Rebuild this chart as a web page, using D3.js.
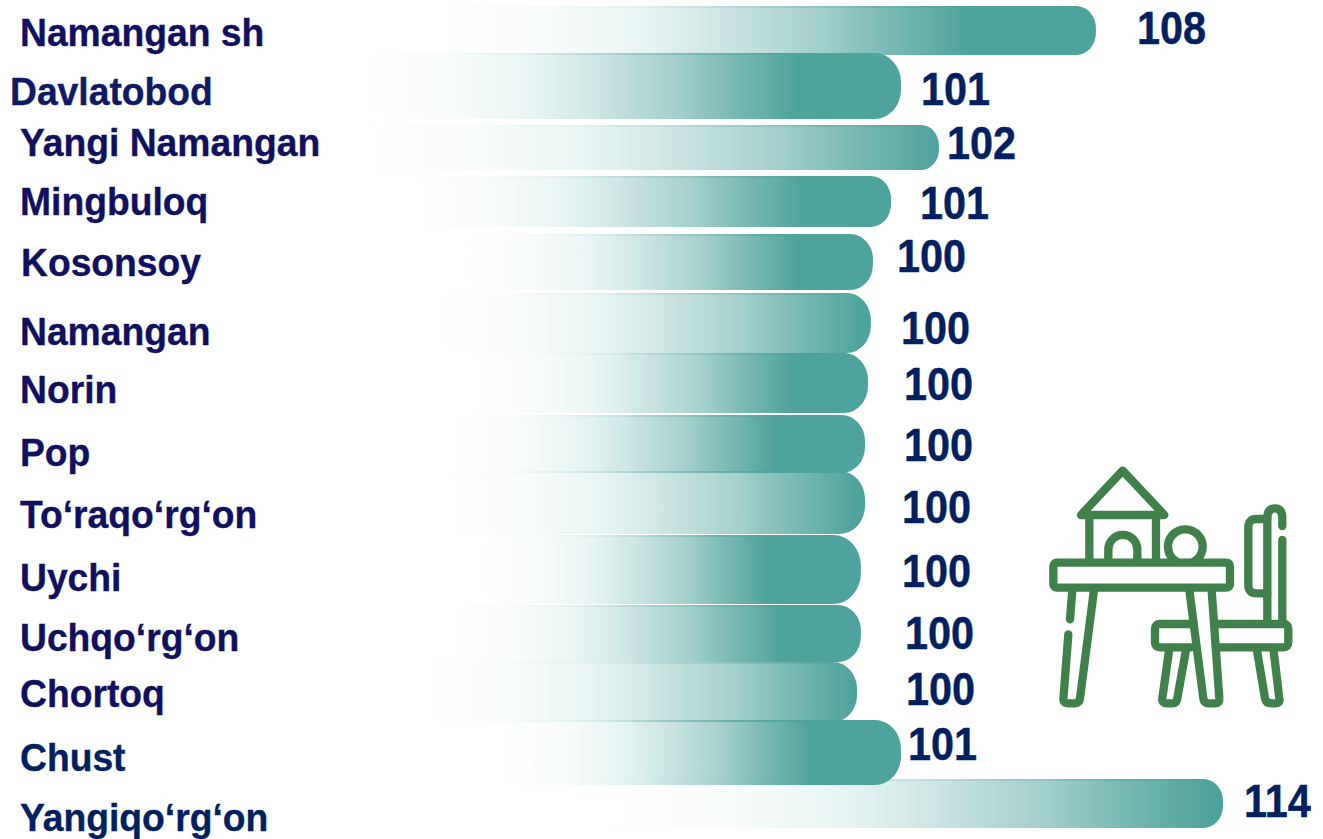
<!doctype html>
<html lang="en">
<head>
<meta charset="utf-8">
<title>Namangan</title>
<script src="https://cdn.jsdelivr.net/npm/d3@7"></script>
<style>
  html, body { margin: 0; padding: 0; background: #fff; }
  svg { display: block; }
  text { font-family: "Liberation Sans", Arial, sans-serif; font-weight: bold; }
</style>
</head>
<body>
<div id="chart"></div>
<script>
// data
var categories = ["Namangan sh", "Davlatobod", "Yangi Namangan", "Mingbuloq", "Kosonsoy", "Namangan", "Norin",
  "Pop", "To‘raqo‘rg‘on", "Uychi", "Uchqo‘rg‘on", "Chortoq", "Chust", "Yangiqo‘rg‘on"];
var printedValues = [108, 101, 102, 101, 100, 100, 100, 100, 100, 100, 100, 100, 101, 114];
// the bars are hand sized in the original, so their ends don't follow the printed numbers exactly
var barEnds = [109.03, 101.41, 102.89, 101.02, 100.31, 100.23, 100.12, 100, 100, 99.84, 99.84, 99.69, 101.41, 114];
var fadeStarts = [82.6, 79.9, 79.7, 81.8, 83.9, 82.8, 84.4, 83.6, 83, 84.6, 83.4, 82.4, 85.3, 89.2];
var solidFrom = [0.81, 0.81, 1, 0.82, 0.82, 0.98, 0.81, 0.79, 0.98, 0.76, 0.81, 0.99, 0.78, 0.98];

// layout
var width = 1323, height = 839;
var tops = [6, 53, 125, 176, 234, 293, 353, 415, 471, 535, 605, 662, 720, 779];
var bottoms = [55, 119, 170, 227, 290, 353, 413, 473, 534, 604, 662, 722, 785, 828];
var labelX = [20, 10, 20, 20, 21, 20, 20, 20, 20, 20, 20, 20, 20, 20];
var labelY = [46, 105, 156, 215, 276, 345, 403, 466, 528, 591, 651, 707, 771, 831];
var valueX = [1137, 921, 947, 920, 897, 901, 904, 904, 902, 902, 905, 906, 908, 1244];
var valueY = [44, 105, 159, 219, 272, 344, 400, 461, 523, 587, 649, 705, 760, 817];
var labelColors = ["#10105f", "#0e1a63", "#10105f", "#10105f", "#10105f", "#10105f", "#10105f",
  "#10105f", "#10105f", "#10105f", "#10105f", "#10105f", "#002060", "#002060"];
var teal = "#4ea39c", paleTeal = "#5cb8b0", green = "#40804a";

var x = d3.scaleLinear().domain([100, 114]).range([865, 1223]);
var yTop = d3.scaleOrdinal().domain(categories).range(tops);
var yBottom = d3.scaleOrdinal().domain(categories).range(bottoms);

var rows = categories.map(function(name, i) {
  return { name: name, i: i, value: printedValues[i], end: barEnds[i], start: fadeStarts[i], solid: solidFrom[i] };
});

var svg = d3.select("#chart").append("svg").attr("width", width).attr("height", height);

// fade curve of the bars, share of full colour along the solid part
var fade = [[0, 0], [0.2, 0.03], [0.39, 0.13], [0.59, 0.33], [0.73, 0.52], [0.86, 0.76], [1, 1]];

var defs = svg.append("defs");
rows.forEach(function(d) {
  var g = defs.append("linearGradient").attr("id", "fade" + d.i);
  fade.forEach(function(s) {
    g.append("stop")
      .attr("offset", s[0] * d.solid)
      .attr("stop-color", s[1] < 0.2 ? paleTeal : teal)
      .attr("stop-opacity", s[1]);
  });
});

function barHeight(d) { return yBottom(d.name) - yTop(d.name); }

// last bar goes underneath the others
var drawOrder = rows.slice(-1).concat(rows.slice(0, -1));

svg.append("g").selectAll("rect").data(drawOrder).enter().append("rect")
  .attr("x", function(d) { return x(d.start); })
  .attr("y", function(d) { return yTop(d.name); })
  .attr("width", function(d) { return x(d.end) - x(d.start); })
  .attr("height", barHeight)
  .attr("rx", function(d) { return barHeight(d) * 0.4; })
  .attr("ry", function(d) { return barHeight(d) * 0.45; })
  .attr("fill", function(d) { return "url(#fade" + d.i + ")"; });

// thin darker rim along the top of each bar
svg.append("g").selectAll("rect").data(drawOrder).enter().append("rect")
  .attr("x", function(d) { return x(d.start); })
  .attr("y", function(d) { return yTop(d.name); })
  .attr("width", function(d) { return x(d.end) - x(d.start) - barHeight(d) * 0.4; })
  .attr("height", 2)
  .attr("opacity", 0.45)
  .attr("fill", function(d) { return "url(#fade" + d.i + ")"; });

svg.append("g").selectAll("text").data(rows).enter().append("text")
  .attr("transform", function(d) { return "translate(" + labelX[d.i] + "," + labelY[d.i] + ") scale(1,1.04)"; })
  .attr("font-size", 37.25)
  .attr("fill", function(d) { return labelColors[d.i]; })
  .attr("stroke", function(d) { return labelColors[d.i]; })
  .attr("stroke-width", 0.35)
  .text(function(d) { return d.name; });

svg.append("g").selectAll("text").data(rows).enter().append("text")
  .attr("transform", function(d) { return "translate(" + valueX[d.i] + "," + valueY[d.i] + ") scale(1,1.1)"; })
  .attr("font-size", 41.4)
  .attr("fill", "#002060")
  .attr("stroke", "#002060")
  .attr("stroke-width", 0.4)
  .text(function(d) { return d.value; });

// kindergarten table and chair icon
var iconPaths = [
  "M153,195 L278,62 L403,195 Z",
  "M178,195 V335 M378,195 V335",
  "M235,335 V298 A43,43 0 0 1 322,298 V335",
  "M440,335 A52,52 0 1 1 492,335",
  "M82,338 H588 Q600,338 600,350 V401 Q600,413 588,413 H82 Q70,413 70,401 V350 Q70,338 82,338 Z",
  "M192,420 L150,745 Q148,760 135,760 H115 Q100,760 100,748 L115,553",
  "M127,420 L120,508",
  "M478,420 L520,745 Q522,760 535,760 H555 Q570,760 568,745 L545,420",
  "M490,522 H390 Q375,522 375,537 V577 Q375,592 390,592 H482",
  "M558,522 H760 Q775,522 775,537 V577 Q775,592 760,592 H565",
  "M418,595 L397,745 Q395,760 410,760 H430 Q440,760 442,745 L468,600",
  "M680,595 L705,745 Q708,760 725,760 H735 Q752,760 748,745 L730,595",
  "M712,515 V205 Q712,175 735,175 Q757,175 757,205 V228",
  "M757,270 V515",
  "M712,207 H680 Q655,207 655,232 V405 Q655,430 680,430 H712"
];

svg.append("g")
  .attr("transform", "translate(1030,450) scale(0.3333)")
  .selectAll("path").data(iconPaths).enter().append("path")
  .attr("d", function(d) { return d; })
  .attr("fill", "none")
  .attr("stroke", green)
  .attr("stroke-width", 25)
  .attr("stroke-linecap", "round")
  .attr("stroke-linejoin", "round");
</script>
</body>
</html>
